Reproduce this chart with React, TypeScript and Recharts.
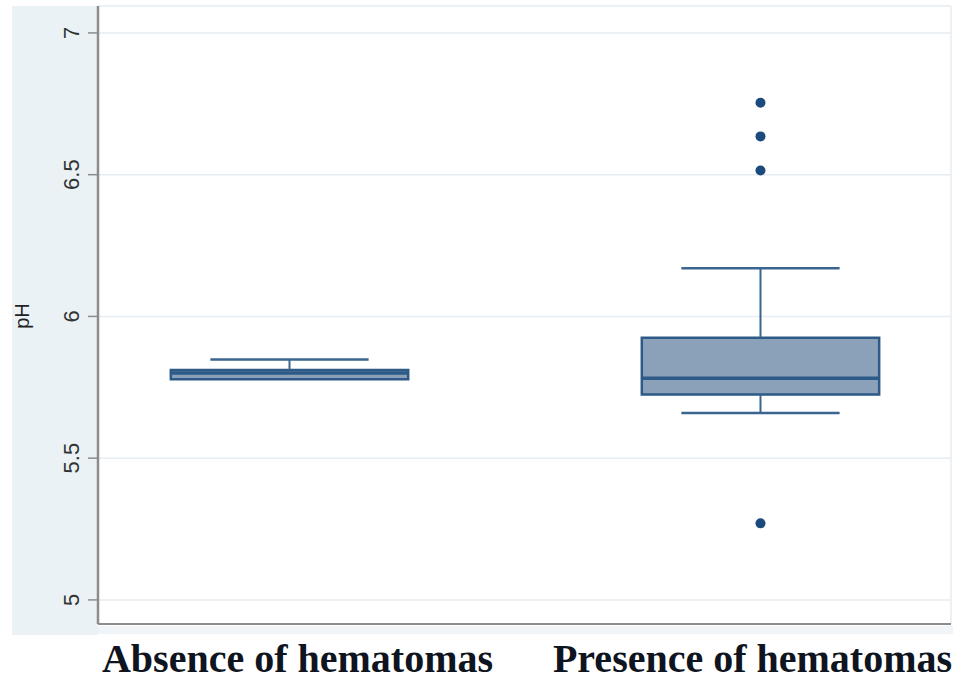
import React from "react";
import {
  ComposedChart,
  XAxis,
  YAxis,
  CartesianGrid,
  ReferenceArea,
  ReferenceLine,
  Scatter,
} from "recharts";

// ---- data ----
const categories = ["Absence of hematomas", "Presence of hematomas"];
const positions = [1, 2];
const lowerWhisker = [5.778, 5.659];
const q1 = [5.778, 5.725];
const median = [5.8, 5.782];
const q3 = [5.811, 5.925];
const upperWhisker = [5.848, 6.17];
const outlierPos = [2, 2, 2, 2];
const outlierValues = [6.754, 6.635, 6.515, 5.27];
const yTicks = [5, 5.5, 6, 6.5, 7];

// ---- styling constants ----
const BOX_HALF = 0.252;
const CAP_HALF = 0.168;
const X_DOMAIN: [number, number] = [0.5934, 2.4045];
const Y_DOMAIN: [number, number] = [4.915, 7.088];
const STROKE = "#2d5a86";
const FILL = "#8ba1b9";
const WHISK = "#3a6590";
const DOT = "#1b4a7c";

const outlierData = outlierValues.map((v, i) => ({ x: outlierPos[i], y: v }));

const YTick = (props: any) => {
  const { y, payload } = props;
  return (
    <g transform={`translate(79, ${y}) rotate(-90)`}>
      <text
        x={0}
        y={0}
        textAnchor="middle"
        fontFamily="'Liberation Sans', Arial, sans-serif"
        fontSize={22}
        fill="#333"
      >
        {String(payload.value)}
      </text>
    </g>
  );
};

const XTick = (props: any) => {
  const { x, payload, index } = props;
  const shift = index === 0 ? 8 : -8;
  const label = categories[positions.indexOf(payload.value)] ?? "";
  return (
    <text
      x={x + shift}
      y={672}
      textAnchor="middle"
      fontFamily="'Liberation Serif', 'Times New Roman', serif"
      fontWeight="bold"
      fontSize={40}
      fill="#0e1420"
    >
      {label}
    </text>
  );
};

export default function App() {
  return (
    <div
      style={{
        position: "absolute",
        left: 0,
        top: 0,
        width: 973,
        height: 682,
        background: "#ffffff",
        overflow: "hidden",
      }}
    >
      <div
        style={{
          position: "absolute",
          left: 12,
          top: 6,
          width: 86,
          height: 629,
          background: "#eaf2f5",
        }}
      />
      <div
        style={{
          position: "absolute",
          left: 98,
          top: 626,
          width: 855,
          height: 8,
          background: "#f1f5f7",
        }}
      />
      <div style={{ position: "absolute", left: 0, top: 0 }}>
        <ComposedChart
          width={973}
          height={682}
          margin={{ top: 6, right: 22, left: 0, bottom: 0 }}
        >
          <CartesianGrid
            horizontal={true}
            vertical={false}
            stroke="#e6edf2"
            strokeWidth={1.5}
          />
          <XAxis
            type="number"
            dataKey="x"
            domain={X_DOMAIN}
            ticks={positions}
            allowDataOverflow
            tickLine={false}
            axisLine={{ stroke: "#8c8c8c", strokeWidth: 2 }}
            tick={<XTick />}
            height={58}
            interval={0}
          />
          <YAxis
            type="number"
            dataKey="y"
            domain={[4.915, 7.095]}
            ticks={yTicks}
            allowDataOverflow
            width={98}
            tickSize={10}
            tickLine={{ stroke: "#8c8c8c", strokeWidth: 1.5 }}
            axisLine={{ stroke: "#8c8c8c", strokeWidth: 2.5 }}
            tick={<YTick />}
            interval={0}
            label={{
              value: "pH",
              position: "insideLeft",
              content: () => (
                <g transform={`translate(29, 316) rotate(-90)`}>
                  <text
                    x={0}
                    y={0}
                    textAnchor="middle"
                    fontFamily="'Liberation Sans', Arial, sans-serif"
                    fontSize={20}
                    fill="#222"
                  >
                    pH
                  </text>
                </g>
              ),
            }}
          />
          <ReferenceLine
            x={X_DOMAIN[1]}
            stroke="#e6edf2"
            strokeWidth={1.5}
            ifOverflow="extendDomain"
          />
          {positions.map((p, i) => (
            <ReferenceLine
              key={`uw-${i}`}
              segment={[
                { x: p, y: q3[i] },
                { x: p, y: upperWhisker[i] },
              ]}
              stroke={WHISK}
              strokeWidth={2}
            />
          ))}
          {positions.map((p, i) => (
            <ReferenceLine
              key={`lw-${i}`}
              segment={[
                { x: p, y: lowerWhisker[i] },
                { x: p, y: q1[i] },
              ]}
              stroke={WHISK}
              strokeWidth={2}
            />
          ))}
          {positions.map((p, i) => (
            <ReferenceLine
              key={`uc-${i}`}
              segment={[
                { x: p - CAP_HALF, y: upperWhisker[i] },
                { x: p + CAP_HALF, y: upperWhisker[i] },
              ]}
              stroke={WHISK}
              strokeWidth={2.5}
            />
          ))}
          {positions.map((p, i) =>
            lowerWhisker[i] < q1[i] ? (
              <ReferenceLine
                key={`lc-${i}`}
                segment={[
                  { x: p - CAP_HALF, y: lowerWhisker[i] },
                  { x: p + CAP_HALF, y: lowerWhisker[i] },
                ]}
                stroke={WHISK}
                strokeWidth={2.5}
              />
            ) : null
          )}
          {positions.map((p, i) => (
            <ReferenceArea
              key={`box-${i}`}
              x1={p - BOX_HALF}
              x2={p + BOX_HALF}
              y1={q1[i]}
              y2={q3[i]}
              fill={FILL}
              fillOpacity={1}
              stroke={STROKE}
              strokeWidth={2.5}
            />
          ))}
          {positions.map((p, i) => (
            <ReferenceLine
              key={`med-${i}`}
              segment={[
                { x: p - BOX_HALF, y: median[i] },
                { x: p + BOX_HALF, y: median[i] },
              ]}
              stroke={STROKE}
              strokeWidth={3.5}
            />
          ))}
          <Scatter
            data={outlierData}
            dataKey="y"
            fill={DOT}
            isAnimationActive={false}
            shape={(props: any) => (
              <circle cx={props.cx} cy={props.cy} r={5} fill={DOT} />
            )}
          />
        </ComposedChart>
      </div>
    </div>
  );
}
